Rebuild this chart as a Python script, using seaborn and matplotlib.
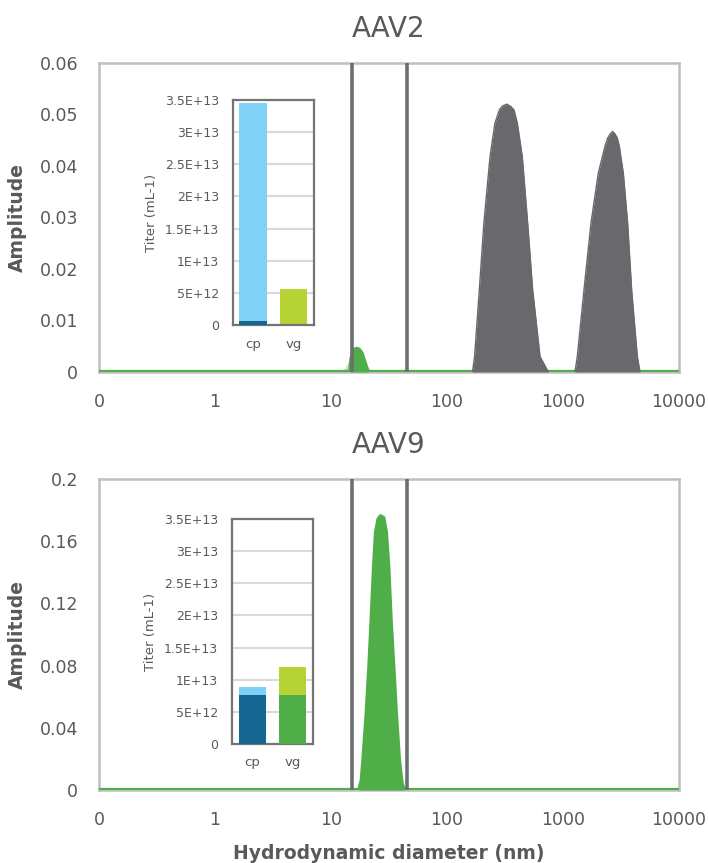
import numpy as np
import pandas as pd
import matplotlib
matplotlib.use("Agg")
import matplotlib.pyplot as plt
from matplotlib.ticker import NullLocator
import seaborn as sns

# ---- data ----
# x axis ticks (log scale, 0.1 is shown as "0")
x_ticks = [0.1, 1, 10, 100, 1000, 10000]
x_labels = ["0", "1", "10", "100", "1000", "10000"]
cut_lo, cut_hi = 15.2, 45.0          # the two vertical cut-off lines (nm)

# AAV2 size distribution
aav2_d = [0.1, 14.6, 15.0, 15.5, 16.0, 16.7, 17.5, 18.4, 19.6, 20.5, 21.0, 10000]
aav2_amp = [0, 0, 0.0025, 0.0037, 0.0043, 0.0045, 0.0043, 0.0036, 0.0017, 0.0004, 0, 0]
aav2_shadow_d = [12.4, 13.5, 14.6, 15.2, 15.6]
aav2_shadow_amp = [0, 0.0012, 0.0027, 0.0030, 0]
agg1_d = [166, 173, 190, 208, 235, 259, 283, 300, 327, 352, 378, 404, 446, 496, 548, 634, 747]
agg1_amp = [0, 0.0030, 0.0159, 0.0289, 0.0418, 0.0483, 0.0509, 0.0516, 0.0520,
            0.0516, 0.0509, 0.0483, 0.0418, 0.0289, 0.0159, 0.0030, 0]
agg2_d = [1269, 1329, 1517, 1744, 2016, 2301, 2428, 2550, 2681, 2810, 2940, 3059,
          3313, 3610, 3909, 4374, 4611]
agg2_amp = [0, 0.0030, 0.0159, 0.0289, 0.0386, 0.0438, 0.0454, 0.0462, 0.0467,
            0.0462, 0.0454, 0.0438, 0.0386, 0.0289, 0.0159, 0.0030, 0]

# AAV9 size distribution
aav9_d = [0.1, 17.5, 18.4, 19.0, 20.3, 21.4, 22.4, 23.5, 24.4, 25.6, 26.8, 28.3,
          29.8, 31.2, 32.7, 34.5, 36.3, 38.6, 40.7, 42.6, 10000]
aav9_amp = [0, 0, 0.0061, 0.0190, 0.0492, 0.0792, 0.1094, 0.1437, 0.1653, 0.1739, 0.1760,
            0.1750, 0.1653, 0.1437, 0.1094, 0.0792, 0.0492, 0.0190, 0.0041, 0, 0]

# inset titers
titer_cats = ["cp", "vg"]
aav2_total = [3.46e13, 0.56e13]
aav2_full = [0.07e13, 0.0]
aav9_total = [0.89e13, 1.20e13]
aav9_full = [0.757e13, 0.757e13]
titer_ticks = [0, 5e12, 1e13, 1.5e13, 2e13, 2.5e13, 3e13, 3.5e13]
titer_labels = ["0", "5E+12", "1E+13", "1.5E+13", "2E+13", "2.5E+13", "3E+13", "3.5E+13"]

top_yticks = [0, 0.01, 0.02, 0.03, 0.04, 0.05, 0.06]
top_ylabels = ["0", "0.01", "0.02", "0.03", "0.04", "0.05", "0.06"]
bot_yticks = [0, 0.04, 0.08, 0.12, 0.16, 0.2]
bot_ylabels = ["0", "0.04", "0.08", "0.12", "0.16", "0.2"]

GREEN = "#4fae48"
DARKGRAY = "#68686d"
LINEGRAY = "#6d6e72"
TXT = "#595959"
light_cols = ["#7fd1f5", "#b5d334"]
dark_cols = ["#156690", "#4fae48"]

sns.set_theme(style="white")
plt.rcParams['font.family'] = ['DejaVu Sans']

fig = plt.figure(figsize=(7.08, 8.63), dpi=100)
ax_top = fig.add_axes([0.1398, 0.5690, 0.8192, 0.3581])
ax_bot = fig.add_axes([0.1398, 0.0846, 0.8192, 0.3604])


def draw_curve(ax, d, amp, color, lw=3.0, z=3, outline=True):
    df = pd.DataFrame({"d": d, "amp": amp})
    ax.fill_between(df["d"], 0, df["amp"], color=color, lw=0, zorder=z)
    if outline:
        sns.lineplot(data=df, x="d", y="amp", ax=ax, color=color, lw=lw,
                     zorder=z, sort=False, estimator=None)


def style_main(ax, yticks, ylabels, title):
    ax.set_xscale("log")
    ax.set_xlim(0.1, 10000)
    ax.set_ylim(yticks[0], yticks[-1])
    ax.set_xticks(x_ticks)
    ax.set_xticklabels(x_labels)
    ax.xaxis.set_minor_locator(NullLocator())
    ax.set_yticks(yticks)
    ax.set_yticklabels(ylabels)
    ax.tick_params(length=0, pad=15, labelsize=12.5, labelcolor=TXT)
    for s in ax.spines.values():
        s.set_color("#bfbfbf")
        s.set_linewidth(1.8)
    ax.set_ylabel("Amplitude", fontsize=13.5, fontweight="bold", color=TXT, labelpad=9)
    ax.set_xlabel("")
    ax.set_title(title, fontsize=20, color=TXT, pad=19)
    for x in (cut_lo, cut_hi):
        ax.axvline(x, color=LINEGRAY, lw=2.6, zorder=6)


def draw_inset(rect, total, full):
    ax = fig.add_axes(rect)
    ax.set_facecolor("white")
    sns.barplot(x=titer_cats, y=total, hue=titer_cats, palette=light_cols, legend=False,
                width=0.67, saturation=1, ax=ax, linewidth=0, zorder=2)
    sns.barplot(x=titer_cats, y=full, hue=titer_cats, palette=dark_cols, legend=False,
                width=0.67, saturation=1, ax=ax, linewidth=0, zorder=3)
    ax.set_xlim(-0.5, 1.5)
    ax.set_ylim(0, 3.5e13)
    ax.set_yticks(titer_ticks)
    ax.set_yticklabels(titer_labels)
    ax.yaxis.grid(True, color="#d9d9d9", lw=1.5)
    ax.set_axisbelow(True)
    ax.tick_params(axis="y", length=0, pad=10, labelsize=9, labelcolor=TXT)
    ax.tick_params(axis="x", length=0, pad=9, labelsize=9.5, labelcolor=TXT)
    ax.set_ylabel("Titer (mL-1)", fontsize=9.5, color=TXT, labelpad=5)
    ax.set_xlabel("")
    for s in ax.spines.values():
        s.set_color("#757575")
        s.set_linewidth(1.6)


# top panel: AAV2
ax_top.set_xscale("log")
draw_curve(ax_top, aav2_shadow_d, aav2_shadow_amp, "#d9d9d9", z=2, outline=False)
draw_curve(ax_top, aav2_d, aav2_amp, GREEN, z=3)
draw_curve(ax_top, agg1_d, agg1_amp, DARKGRAY, lw=1, z=4)
draw_curve(ax_top, agg2_d, agg2_amp, DARKGRAY, lw=1, z=4)
style_main(ax_top, top_yticks, top_ylabels, "AAV2")

# bottom panel: AAV9
ax_bot.set_xscale("log")
draw_curve(ax_bot, aav9_d, aav9_amp, GREEN, z=3)
style_main(ax_bot, bot_yticks, bot_ylabels, "AAV9")
ax_bot.set_xlabel("Hydrodynamic diameter (nm)", fontsize=13.5, fontweight="bold",
                  color=TXT, labelpad=11)

draw_inset([0.3287, 0.6234, 0.1148, 0.2607], aav2_total, aav2_full)
draw_inset([0.3277, 0.1379, 0.1140, 0.2607], aav9_total, aav9_full)

fig.savefig("out.png", dpi=100)
